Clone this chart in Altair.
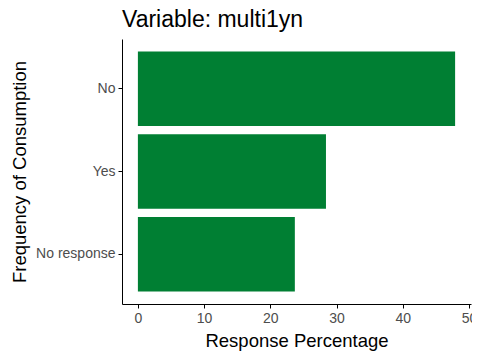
import altair as alt
import pandas as pd

categories = ["No", "Yes", "No response"]
percentages = [47.9, 28.4, 23.7]

df = pd.DataFrame({"cat": categories, "pct": percentages})

FONT = "Liberation Sans"

bars = alt.Chart(df).mark_bar(color="#007F33").encode(
    y=alt.Y("cat:N", sort=categories,
            scale=alt.Scale(paddingInner=0.1, paddingOuter=0.15),
            axis=alt.Axis(title="Frequency of Consumption", labelColor="#4D4D4D",
                          labelFontSize=14, titleFontSize=18.5, titleFontWeight="normal",
                          titleColor="black", tickColor="black", domainColor="black",
                          tickSize=4, labelPadding=3, titlePadding=6, labelFont=FONT,
                          titleFont=FONT)),
    x=alt.X("pct:Q", scale=alt.Scale(domain=[-2.4, 50.3], nice=False, zero=False),
            axis=alt.Axis(title="Response Percentage", values=[0, 10, 20, 30, 40, 50],
                          labelColor="#4D4D4D", labelFontSize=14, titleFontSize=18.5,
                          titleFontWeight="normal", titleColor="black", tickColor="black",
                          domainColor="black", grid=False, tickSize=4, labelPadding=3,
                          titlePadding=6, labelFont=FONT, titleFont=FONT, labelFlush=False)),
    x2=alt.datum(0),
)

chart = bars.properties(
    width=349, height=265,
    title=alt.TitleParams("Variable: multi1yn", anchor="start", fontSize=23,
                          fontWeight="normal", font=FONT, color="black", offset=7,
                          frame="group"),
    autosize=alt.AutoSizeParams(type="none"),
    padding={"left": 114, "top": 31, "right": 1, "bottom": 48},
).configure_view(stroke=None).configure_axis(grid=False)

chart.save("out.html", embed_options={"renderer": "svg", "actions": False})
